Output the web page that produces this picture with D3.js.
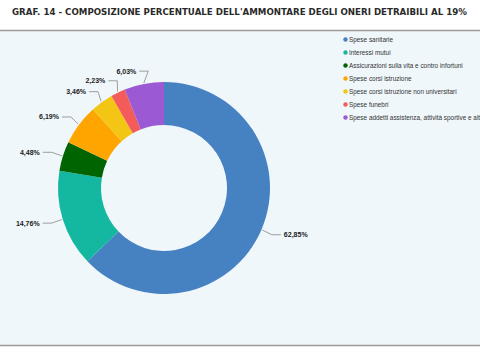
<!DOCTYPE html>
<html><head><meta charset="utf-8">
<script src="https://cdn.jsdelivr.net/npm/d3@7"></script>
<style>html,body{margin:0;padding:0;background:#fff;overflow:hidden}</style>
</head><body>
<svg id="c" width="480" height="360"></svg>
<script>
const title = "GRAF. 14 - COMPOSIZIONE PERCENTUALE DELL'AMMONTARE DEGLI ONERI DETRAIBILI AL 19%";
const categories = ["Spese sanitarie","Interessi mutui","Assicurazioni sulla vita e contro infortuni","Spese corsi istruzione","Spese corsi istruzione non universitari","Spese funebri","Spese addetti assistenza, attività sportive e altre"];
const values = [62.85, 14.76, 4.48, 6.19, 3.46, 2.23, 6.03];
const labels = ["62,85%","14,76%","4,48%","6,19%","3,46%","2,23%","6,03%"];
const colors = ["#4682c2","#14b8a0","#006400","#ffa500","#f3c514","#f45b5b","#9b59d3"];

const svg = d3.select("#c");
// title
svg.append("text").attr("x",12).attr("y",15)
  .attr("font-family","DejaVu Sans").attr("font-weight","bold").attr("font-size",8.5)
  .attr("fill","#2a2a2a").attr("textLength",455).attr("lengthAdjust","spacingAndGlyphs")
  .text(title);
// panel
svg.append("rect").attr("x",0).attr("y",30).attr("width",480).attr("height",315).attr("fill","#eff7fb");
svg.append("line").attr("x1",0).attr("x2",480).attr("y1",30.5).attr("y2",30.5).attr("stroke","#9a9a9a").attr("stroke-width",1.5);
svg.append("line").attr("x1",0).attr("x2",480).attr("y1",345.5).attr("y2",345.5).attr("stroke","#9a9a9a").attr("stroke-width",1.5);

const cx = 164, cy = 188, R = 106, r0 = 63;
const pie = d3.pie().sort(null).value(d=>d)(values);
const arc = d3.arc().innerRadius(r0).outerRadius(R);
const g = svg.append("g").attr("transform",`translate(${cx},${cy})`);
g.selectAll("path.s").data(pie).join("path").attr("class","s")
  .attr("d",arc).attr("fill",(d,i)=>colors[i]);

// labels
pie.forEach((d,i)=>{
  const a = (d.startAngle+d.endAngle)/2;
  const s = Math.sin(a), c = Math.cos(a);
  const side = s>=0?1:-1;
  const px = (R+1)*s, py = -(R+1)*c;
  const ly = -(R+13)*c;
  const tx = (R+20)*s + side*4;
  const ex = tx - side*12;
  g.append("path").attr("d",`M${px},${py}L${ex},${ly}L${tx-side*3},${ly}`)
    .attr("fill","none").attr("stroke","#888").attr("stroke-width",0.8);
  g.append("text").attr("x",tx).attr("y",ly).attr("dy","0.35em")
    .attr("text-anchor",side>0?"start":"end")
    .attr("font-family","Liberation Sans, Arial").attr("font-weight","bold").attr("font-size",7)
    .attr("fill","#222").text(labels[i]);
});

// legend
const lg = svg.append("g");
categories.forEach((name,i)=>{
  const y = 39.5 + i*13;
  lg.append("circle").attr("cx",345.5).attr("cy",y).attr("r",2.2).attr("fill",colors[i]);
  lg.append("text").attr("x",349).attr("y",y).attr("dy","0.35em")
    .attr("font-family","Liberation Sans, Arial").attr("font-size",6.4).attr("fill","#333").text(name);
});
</script>
</body></html>
